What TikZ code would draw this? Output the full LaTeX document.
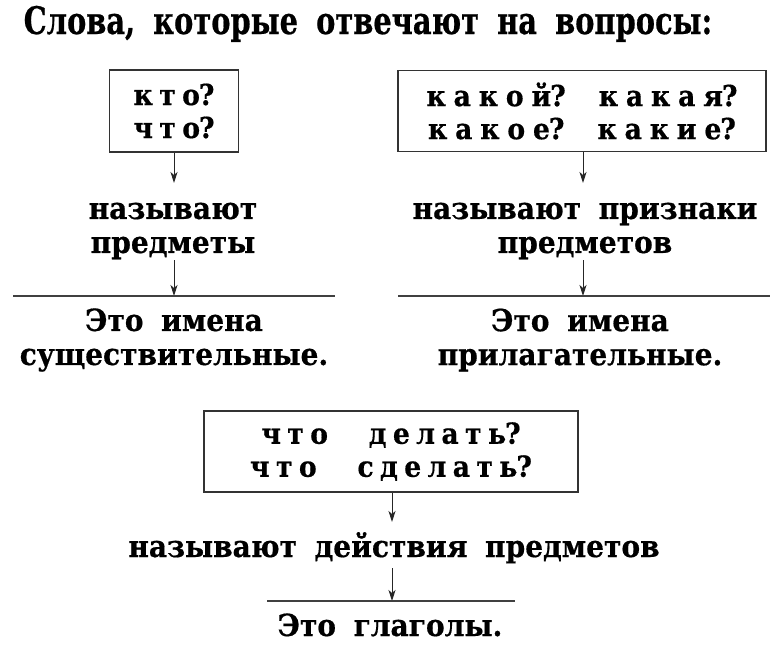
\documentclass[tikz,border=0pt]{standalone}
\usepackage{fontspec}
\setmainfont{DejaVu Serif}
\newfontfamily\bodyfont{DejaVu Serif}[FakeStretch=0.92,WordSpace=1.8,FakeBold=0.5]
\newfontfamily\boxfont{DejaVu Serif}[FakeStretch=0.92,LetterSpace=22,WordSpace=1.3,FakeBold=0.5]
\newfontfamily\boxwidefont{DejaVu Serif}[FakeStretch=0.92,LetterSpace=27,WordSpace=1.6,FakeBold=0.5]
\newfontfamily\titlefont{DejaVu Serif}[FakeStretch=0.76,WordSpace=1.8,FakeBold=0.5]
\newcommand{\qm}{\kern-0.04em?}
\usetikzlibrary{arrows.meta}
\begin{document}
\begin{tikzpicture}[x=1pt,y=-1pt,
 body/.style={font=\bodyfont\bfseries\fontsize{30.5}{34}\selectfont, align=center, inner sep=0pt},
 qbox/.style={draw=black!80, line width=1.3pt, font=\boxfont\bfseries\fontsize{29}{33}\selectfont, align=center, inner sep=0pt},
 widebox/.style={qbox, font=\boxwidefont\bfseries\fontsize{29}{33}\selectfont},
 conn/.style={draw=black!85, line width=1pt, -{Stealth[length=11pt,width=7pt,inset=3pt]}},
 rule/.style={draw=black!75, line width=1.1pt}]
\useasboundingbox (0,0) rectangle (781,653);
\node[font=\titlefont\bfseries\fontsize{38}{40}\selectfont, anchor=base, inner sep=0pt] (title) at (368,34) {Слова, которые отвечают на вопросы:};

% left column
\node[qbox, minimum width=129pt, minimum height=82pt] (box1) at (174,111) {кто\qm\\что\qm};
\node[body] (t1) at (173,231) {называют\\предметы};
\node[body] (e1) at (174,340) {Это имена\\существительные.};
\coordinate (p1) at (174,183);
\coordinate (q1) at (174,260);
\coordinate (r1l) at (13,296);
\coordinate (r1r) at (335,296);
\coordinate (r1m) at (174,296);

% right column
\node[widebox, minimum width=368pt, minimum height=81pt] (box2) at (582,111) {какой\qm{} какая\qm\\какое\qm{} какие\qm};
\node[body] (t2) at (585,231) {называют признаки\\предметов};
\node[body] (e2) at (580,340) {Это имена\\прилагательные.};
\coordinate (p2) at (583,183);
\coordinate (q2) at (583,260);
\coordinate (r2l) at (398,296);
\coordinate (r2r) at (770,296);
\coordinate (r2m) at (583,296);

% bottom
\node[qbox, minimum width=374pt, minimum height=81pt] (box3) at (391,451.5) {что \ делать\qm\\что \ сделать\qm};
\node[body, anchor=base] (t3) at (394,557) {называют действия предметов};
\node[body, anchor=base] (e3) at (390,636) {Это глаголы.};
\coordinate (p3) at (392,522);
\coordinate (q3) at (392,568);
\coordinate (r3l) at (267,601);
\coordinate (r3r) at (515,601);
\coordinate (r3m) at (392,601);

\draw[conn] (box1.south) -- (p1);
\draw[conn] (q1) -- (r1m);
\draw[rule] (r1l) -- (r1r);
\draw[conn] (box2.south -| p2) -- (p2);
\draw[conn] (q2) -- (r2m);
\draw[rule] (r2l) -- (r2r);
\draw[conn] (box3.south -| p3) -- (p3);
\draw[conn] (q3) -- (r3m);
\draw[rule] (r3l) -- (r3r);
\end{tikzpicture}
\end{document}
